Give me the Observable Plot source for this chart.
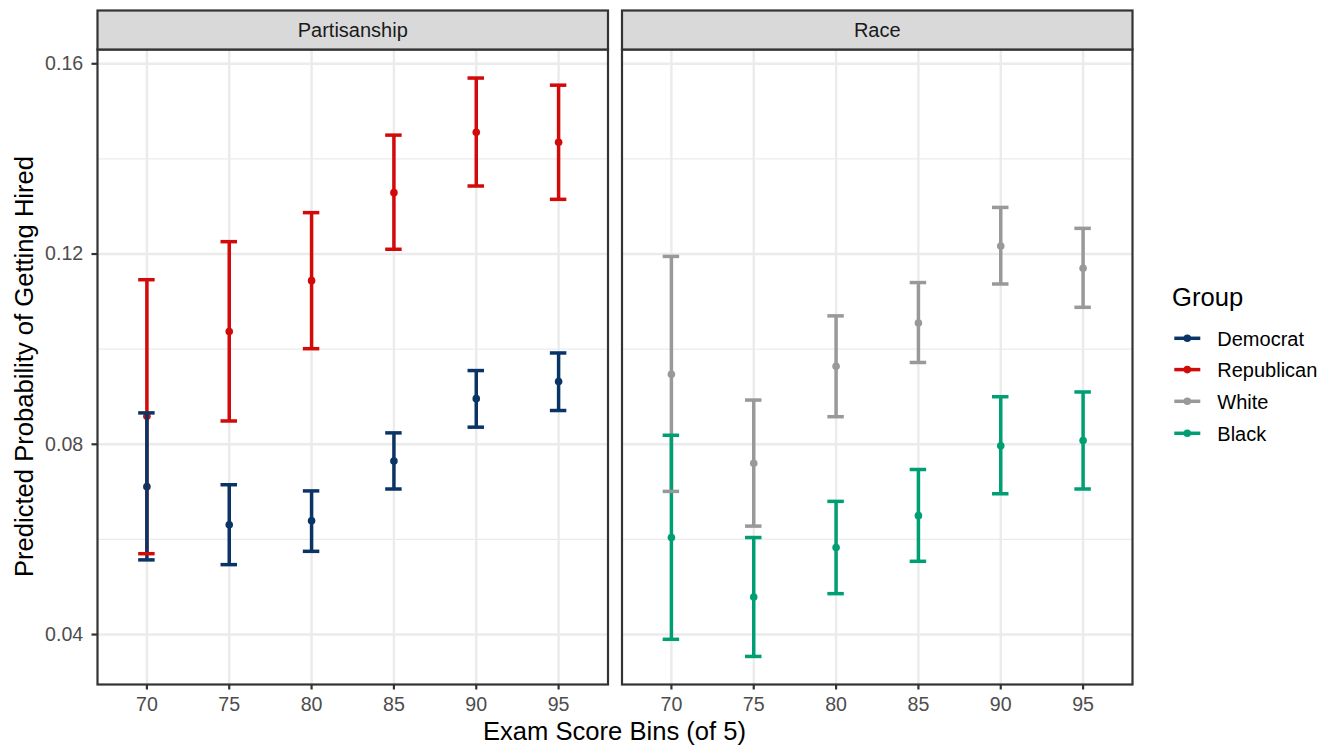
<!DOCTYPE html>
<html><head><meta charset="utf-8">
<script src="https://cdn.jsdelivr.net/npm/d3@7"></script>
<script src="https://cdn.jsdelivr.net/npm/@observablehq/plot@0.6"></script>
<style>
html,body{margin:0;padding:0;background:#fff;overflow:hidden;}
#fig{width:1340px;height:751px;position:relative;}
</style></head><body><div id="fig"></div>
<script>
const facets = ["Partisanship", "Race"];
const groups = ["Democrat", "Republican", "White", "Black"];
const groupFacet = {Democrat: "Partisanship", Republican: "Partisanship", White: "Race", Black: "Race"};
const colors = ["#0b3466", "#d20a0a", "#999999", "#009e73"];
const scores = ["70", "75", "80", "85", "90", "95"];
const yTicks = [0.04, 0.08, 0.12, 0.16];
const yMinor = [0.06, 0.10, 0.14];

const repEst = [0.0859, 0.1037, 0.1144, 0.1329, 0.1456, 0.1435];
const repLo  = [0.0570, 0.0849, 0.1001, 0.1210, 0.1343, 0.1315];
const repHi  = [0.1146, 0.1226, 0.1287, 0.1450, 0.1570, 0.1555];

const demEst = [0.0711, 0.0631, 0.0639, 0.0765, 0.0896, 0.0932];
const demLo  = [0.0557, 0.0547, 0.0575, 0.0706, 0.0836, 0.0871];
const demHi  = [0.0866, 0.0715, 0.0702, 0.0824, 0.0955, 0.0992];

const whiteEst = [0.0947, 0.0760, 0.0964, 0.1055, 0.1217, 0.1170];
const whiteLo  = [0.0701, 0.0628, 0.0858, 0.0972, 0.1137, 0.1088];
const whiteHi  = [0.1195, 0.0893, 0.1070, 0.1140, 0.1298, 0.1254];

const blackEst = [0.0604, 0.0479, 0.0583, 0.0650, 0.0797, 0.0808];
const blackLo  = [0.0390, 0.0354, 0.0486, 0.0554, 0.0696, 0.0706];
const blackHi  = [0.0819, 0.0604, 0.0680, 0.0747, 0.0900, 0.0910];

const series = [
  ["Republican", repEst, repLo, repHi],
  ["Democrat", demEst, demLo, demHi],
  ["White", whiteEst, whiteLo, whiteHi],
  ["Black", blackEst, blackLo, blackHi]
];
const rows = [];
for (const [g, est, lo, hi] of series) {
  scores.forEach((s, i) => rows.push({facet: groupFacet[g], group: g, score: s, est: est[i], lo: lo[i], hi: hi[i]}));
}

const FONT = "'Liberation Sans', Arial, Helvetica, sans-serif";
const W = 1340, H = 751;
const TICK_FS = 19.6, STRIP_FS = 20, TITLE_FS = 25.6, LEG_FS = 20;

const chart = Plot.plot({
  width: W,
  height: H,
  marginTop: 49,
  marginBottom: 67,
  marginLeft: 97,
  marginRight: 208,
  style: {fontFamily: FONT, fontSize: TICK_FS + "px", background: "white", color: "#333333"},
  fx: {domain: facets, paddingInner: 0.02669, paddingOuter: 0, round: false, axis: null, label: null},
  x: {type: "band", domain: scores, paddingInner: 0.8, paddingOuter: 0.5, align: 0.5, round: false, label: null},
  y: {domain: [0.0295, 0.1630], label: null},
  color: {domain: groups, range: colors},
  marks: [
    Plot.gridY(yMinor, {stroke: "#EBEBEB", strokeOpacity: 1, strokeWidth: 1.2}),
    Plot.gridY(yTicks, {stroke: "#EBEBEB", strokeOpacity: 1, strokeWidth: 2.4}),
    Plot.gridX(scores, {stroke: "#EBEBEB", strokeOpacity: 1, strokeWidth: 2.4}),
    Plot.dot(rows, {fx: "facet", x: "score", y: "est", fill: "group", r: 3.8}),
    Plot.ruleX(rows, {fx: "facet", x: "score", y1: "lo", y2: "hi", stroke: "group", strokeWidth: 3.5}),
    Plot.tickY(rows, {fx: "facet", x: "score", y: "lo", stroke: "group", strokeWidth: 3.5}),
    Plot.tickY(rows, {fx: "facet", x: "score", y: "hi", stroke: "group", strokeWidth: 3.5}),
    Plot.axisY(yTicks, {tickFormat: d3.format(".2f"), tickSize: 5.5, tickPadding: 8.8, stroke: "#333333", strokeWidth: 2.2, fill: "#4D4D4D", fontSize: TICK_FS, label: null}),
    Plot.axisX(scores, {tickSize: 5.5, tickPadding: 7.2, stroke: "#333333", strokeWidth: 2.2, fill: "#4D4D4D", fontSize: TICK_FS, label: null}),
    Plot.frame({stroke: "#333333", strokeWidth: 2.2})
  ]
});

document.getElementById("fig").appendChild(chart);
const svg = d3.select(chart);

// facet strips (ggplot-style), placed from each facet's frame
svg.selectAll('g[aria-label="frame"] rect').each(function(d, i) {
  const r = d3.select(this);
  const x = +r.attr("x"), y = +r.attr("y"), w = +r.attr("width");
  const parent = d3.select(this.parentNode);
  const t = r.attr("transform");
  const g = parent.append("g");
  if (t) g.attr("transform", t);
  g.append("rect").attr("x", x).attr("y", 10).attr("width", w).attr("height", y - 10)
    .attr("fill", "#D9D9D9").attr("stroke", "#333333").attr("stroke-width", 2.2);
  g.append("text").attr("x", x + w / 2).attr("y", 36.7).attr("text-anchor", "middle")
    .attr("font-family", FONT).attr("font-size", STRIP_FS).attr("fill", "#1A1A1A").text(facets[i]);
});

// axis titles
svg.append("text").attr("x", 614.5).attr("y", 739.5).attr("text-anchor", "middle")
  .attr("font-family", FONT).attr("font-size", TITLE_FS).attr("fill", "#000").text("Exam Score Bins (of 5)");
svg.append("text").attr("transform", "translate(32.6,366.5) rotate(-90)").attr("text-anchor", "middle")
  .attr("font-family", FONT).attr("font-size", TITLE_FS).attr("fill", "#000").text("Predicted Probability of Getting Hired");

// legend
const lg = svg.append("g").attr("aria-label", "legend").attr("text-anchor", "start");
lg.append("text").attr("x", 1172).attr("y", 306).attr("text-anchor", "start").attr("font-family", FONT).attr("font-size", TITLE_FS)
  .attr("fill", "#000").text("Group");
const legendY = [338.3, 369.6, 401.3, 433.3];
groups.forEach((g, i) => {
  const yy = legendY[i];
  lg.append("line").attr("x1", 1174.3).attr("x2", 1200.3).attr("y1", yy).attr("y2", yy)
    .attr("stroke", colors[i]).attr("stroke-width", 3.5);
  lg.append("circle").attr("cx", 1187.3).attr("cy", yy).attr("r", 3.8).attr("fill", colors[i]);
  lg.append("text").attr("x", 1217.3).attr("y", yy + 7.2).attr("text-anchor", "start").attr("font-family", FONT).attr("font-size", LEG_FS)
    .attr("fill", "#000").text(g);
});
</script></body></html>
